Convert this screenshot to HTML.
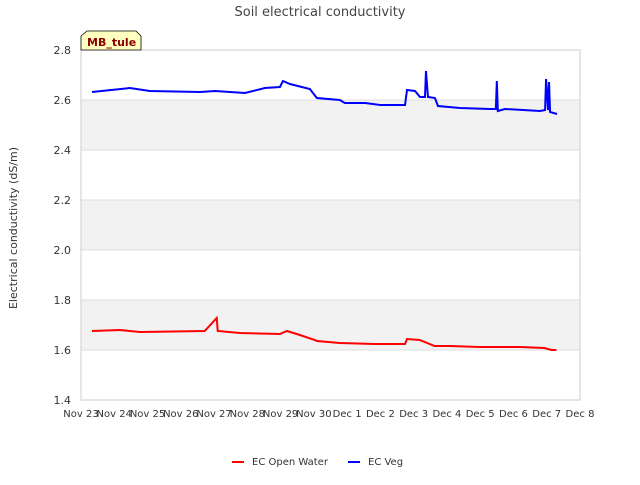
<!DOCTYPE html>
<html><head><meta charset="utf-8"><style>
body{margin:0;background:#fff;font-family:"Liberation Sans","DejaVu Sans",sans-serif}
svg text{font-family:"DejaVu Sans","Liberation Sans",sans-serif}
</style></head><body>
<svg id="c" width="640" height="480" xmlns="http://www.w3.org/2000/svg"></svg>
<script>
const xTickLabels=["Nov 23","Nov 24","Nov 25","Nov 26","Nov 27","Nov 28","Nov 29","Nov 30","Dec 1","Dec 2","Dec 3","Dec 4","Dec 5","Dec 6","Dec 7","Dec 8"];
const yTicks=[1.4,1.6,1.8,2.0,2.2,2.4,2.6,2.8];
const vegDays=[0.33,1.47,2.07,3.58,4.03,4.93,5.53,5.98,6.07,6.28,6.88,7.09,7.78,7.93,8.54,8.99,9.59,9.74,9.80,10.04,10.19,10.34,10.37,10.43,10.64,10.73,11.39,12.29,12.47,12.50,12.53,12.74,13.80,13.95,13.98,14.04,14.07,14.10,14.31];
const vegVals=[2.632,2.648,2.636,2.632,2.636,2.628,2.648,2.652,2.676,2.664,2.644,2.608,2.600,2.588,2.588,2.580,2.580,2.580,2.640,2.636,2.612,2.612,2.716,2.612,2.608,2.576,2.568,2.564,2.564,2.676,2.556,2.564,2.556,2.560,2.684,2.560,2.672,2.552,2.544];
const owDays=[0.33,1.17,1.77,3.72,4.08,4.11,4.78,5.98,6.19,6.58,7.03,7.09,7.78,8.83,9.74,9.80,10.18,10.63,11.08,11.98,13.18,13.93,14.14,14.29];
const owVals=[1.676,1.680,1.672,1.676,1.728,1.676,1.668,1.664,1.676,1.660,1.640,1.636,1.628,1.624,1.624,1.644,1.640,1.616,1.616,1.612,1.612,1.608,1.600,1.600];
const NS="http://www.w3.org/2000/svg",svg=document.getElementById('c');
const L=81,R=580,T=50,B=400;
const xs=d=>L+d*(R-L)/15, ys=v=>B-(v-1.4)*(B-T)/1.4;
function el(t,a,p){const e=document.createElementNS(NS,t);for(const k in a)e.setAttribute(k,a[k]);(p||svg).appendChild(e);return e;}
for(let i=0;i<yTicks.length-1;i++){if(i%2==1){const r=el('rect',{x:L,y:ys(yTicks[i+1]),width:R-L,height:ys(yTicks[i])-ys(yTicks[i+1]),fill:'#f2f2f2'});}}
yTicks.forEach((v,i)=>{
 const g=el('line',{x1:L,x2:R,y1:ys(v),y2:ys(v),stroke:'#dddddd'});
 
 const t=el('text',{x:L-10,y:ys(v)+4,'text-anchor':'end','font-size':11,fill:'#333'});t.textContent=v.toFixed(1);
 
});
const fr=el('rect',{x:L,y:T,width:R-L,height:B-T,fill:'none',stroke:'#cccccc'});

xTickLabels.forEach((s,i)=>{
 const t=el('text',{x:xs(i),y:B+17,'text-anchor':'middle','font-size':10,fill:'#333'});t.textContent=s;
 
});
function series(days,vals,col,name){
 const p=el('polyline',{points:days.map((d,i)=>xs(d)+','+ys(vals[i])).join(' '),fill:'none',stroke:col,'stroke-width':2});
 
}
series(owDays,owVals,'#ff0000','ec-open-water-line');
series(vegDays,vegVals,'#0000ff','ec-veg-line');
</script>
<svg width="640" height="480" style="position:absolute;left:0;top:0">
<text x="320" y="16" text-anchor="middle" font-size="13" fill="#444">Soil electrical conductivity</text>
<text x="0" y="0" transform="translate(17,228) rotate(-90)" text-anchor="middle" font-size="11" fill="#333">Electrical conductivity (dS/m)</text>
<g>
<path d="M81,50 L81,36 L87,31 L136,31 L141,36 L141,50 Z" fill="#ffffc0" stroke="#000" stroke-width="0.8"/>
<text x="87" y="46" font-size="11" font-weight="bold" fill="#8b0000">MB_tule</text>
</g>
<g>
<line x1="232" x2="244" y1="462" y2="462" stroke="#ff0000" stroke-width="2"/>
<text x="252" y="465" font-size="10" fill="#333">EC Open Water</text></g>
<g>
<line x1="348" x2="360" y1="462" y2="462" stroke="#0000ff" stroke-width="2"/>
<text x="368" y="465" font-size="10" fill="#333">EC Veg</text></g>
</svg>
</body></html>
